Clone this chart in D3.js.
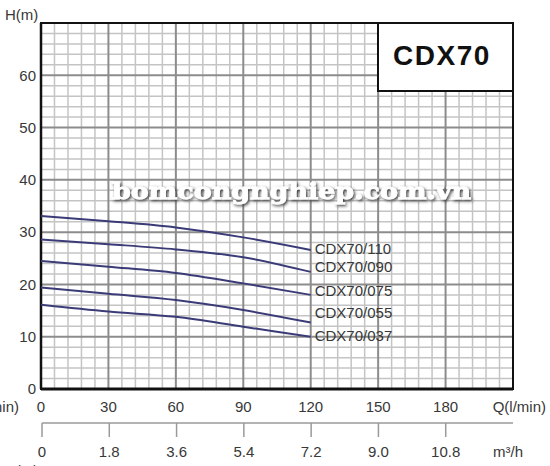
<!DOCTYPE html>
<html lang="vi">
<head>
    <meta charset="UTF-8">
    <title>CDX70 pump curves</title>
    <style>
        body {
            margin: 0;
            background: #fff;
        }
        svg {
            display: block;
            font-family: "Liberation Sans", Arial, sans-serif;
        }
        .grid-minor {
            stroke: #c4c4c4;
            stroke-width: 1.5px;
        }
        .grid-major {
            stroke: #8c8c8c;
            stroke-width: 2px;
        }
        .curve {
            fill: none;
            stroke: #3b3b78;
            stroke-width: 2px;
        }
        .lbl {
            fill: #383838;
            font-size: 15px;
        }
    </style>
</head>
<body>
    <svg width="550" height="466"></svg>
    <script src="https://d3js.org/d3.v7.min.js"></script>
    <script>
        // flow in l/min, head in m
        const flow = [0, 30, 60, 90, 120];
        const models = ["CDX70/110", "CDX70/090", "CDX70/075", "CDX70/055", "CDX70/037"];
        const head110 = [33.1, 32.1, 30.9, 29.0, 26.6];
        const head090 = [28.6, 27.7, 26.7, 25.2, 22.4];
        const head075 = [24.5, 23.4, 22.2, 20.2, 18.0];
        const head055 = [19.4, 18.2, 17.0, 15.1, 12.7];
        const head037 = [16.1, 14.8, 13.8, 11.9, 10.0];
        const heads = [head110, head090, head075, head055, head037];
        // label heights (where the names sit at the right end)
        const labelH = [26.8, 23.3, 18.8, 14.6, 10.1];

        const qTicks = [0, 30, 60, 90, 120, 150, 180];
        const m3Ticks = [0, 1.8, 3.6, 5.4, 7.2, 9.0, 10.8];
        const hTicks = [0, 10, 20, 30, 40, 50, 60];

        const svg = d3.select("svg");
        const pL = 41, pR = 513, pT = 23, pB = 389;

        const x = d3.scaleLinear().domain([0, 210]).range([pL, pR]);
        const x2 = d3.scaleLinear().domain([0, 12.6]).range([pL + 1, pR]);
        const y = d3.scaleLinear().domain([0, 70]).range([pB, pT]);

        // grid
        const g = svg.append("g");
        g.selectAll(".vmin").data(d3.range(0, 211, 6).filter(v => v % 30))
            .enter().append("line").attr("class", "grid-minor")
            .attr("x1", d => x(d)).attr("x2", d => x(d)).attr("y1", pT).attr("y2", pB);
        g.selectAll(".hmin").data(d3.range(0, 71, 2).filter(v => v % 10))
            .enter().append("line").attr("class", "grid-minor")
            .attr("x1", pL).attr("x2", pR).attr("y1", d => y(d)).attr("y2", d => y(d));
        g.selectAll(".vmaj").data(d3.range(30, 210, 30))
            .enter().append("line").attr("class", "grid-major")
            .attr("x1", d => x(d)).attr("x2", d => x(d)).attr("y1", pT).attr("y2", pB);
        g.selectAll(".hmaj").data(d3.range(10, 70, 10))
            .enter().append("line").attr("class", "grid-major")
            .attr("x1", pL).attr("x2", pR).attr("y1", d => y(d)).attr("y2", d => y(d));

        // title box
        svg.append("rect")
            .attr("x", 378).attr("y", pT).attr("width", pR - 378).attr("height", 68)
            .attr("fill", "#fff").attr("stroke", "#111").attr("stroke-width", 2);
        svg.append("text")
            .attr("x", 442).attr("y", 65)
            .attr("text-anchor", "middle")
            .attr("font-size", 28).attr("font-weight", "bold")
            .attr("letter-spacing", 1.5)
            .attr("fill", "#111")
            .text("CDX70");

        // frame
        svg.append("rect")
            .attr("x", pL).attr("y", pT).attr("width", pR - pL).attr("height", pB - pT)
            .attr("fill", "none").attr("stroke", "#111").attr("stroke-width", 2);
        svg.append("line")
            .attr("x1", pL).attr("x2", pR).attr("y1", pB).attr("y2", pB)
            .attr("stroke", "#111").attr("stroke-width", 3);
        svg.append("line")
            .attr("x1", pL).attr("x2", pL).attr("y1", pT).attr("y2", pB)
            .attr("stroke", "#111").attr("stroke-width", 2.5);

        // watermark
        const defs = svg.append("defs");
        const f = defs.append("filter").attr("id", "shadow")
            .attr("x", "-5%").attr("y", "-30%").attr("width", "110%").attr("height", "160%");
        f.append("feDropShadow").attr("dx", 1.5).attr("dy", 1.5)
            .attr("stdDeviation", 1.6).attr("flood-color", "#222").attr("flood-opacity", 0.9);
        svg.append("text")
            .attr("x", 112).attr("y", 199)
            .attr("font-family", "DejaVu Serif, serif")
            .attr("font-weight", "bold")
            .attr("font-size", 23)
            .attr("textLength", 359).attr("lengthAdjust", "spacingAndGlyphs")
            .attr("fill", "#fff")
            .attr("stroke", "#fff").attr("stroke-width", 0.8)
            .attr("filter", "url(#shadow)")
            .text("bomcongnghiep.com.vn");

        // curves
        const line = d3.line()
            .x((d, i) => x(flow[i]))
            .y(d => y(d))
            .curve(d3.curveMonotoneX);
        svg.selectAll(".curve").data(heads)
            .enter().append("path")
            .attr("class", "curve")
            .attr("d", line);

        svg.selectAll(".model").data(models)
            .enter().append("text")
            .attr("class", "lbl")
            .attr("x", x(120) + 4)
            .attr("y", (d, i) => y(labelH[i]))
            .attr("dy", "0.35em")
            .text(d => d);

        // y labels
        svg.append("text").attr("class", "lbl").attr("x", 5).attr("y", 20).text("H(m)");
        svg.selectAll(".ytick").data(hTicks)
            .enter().append("text")
            .attr("class", "lbl")
            .attr("x", 36).attr("y", d => y(d))
            .attr("dy", "0.35em")
            .attr("text-anchor", "end")
            .text(d => d);

        // bottom l/min labels
        svg.selectAll(".qtick").data(qTicks)
            .enter().append("text")
            .attr("class", "lbl")
            .attr("x", d => x(d)).attr("y", 407)
            .attr("dy", "0.35em")
            .attr("text-anchor", "middle")
            .text(d => d);
        svg.append("text").attr("class", "lbl")
            .attr("x", 546).attr("y", 407).attr("dy", "0.35em")
            .attr("text-anchor", "end").text("Q(l/min)");
        // left copy is cut by the edge, as in the source image
        svg.append("text").attr("class", "lbl")
            .attr("x", 19).attr("y", 407).attr("dy", "0.35em")
            .attr("text-anchor", "end").text("Q(l/min)");

        // m3/h axis
        const ax = svg.append("g").attr("stroke", "#9a9a9a").attr("stroke-width", 1.5);
        ax.append("line")
            .attr("x1", x2(0)).attr("x2", x2(12.6)).attr("y1", 423).attr("y2", 423);
        ax.selectAll(".tk").data(m3Ticks)
            .enter().append("line")
            .attr("x1", d => x2(d)).attr("x2", d => x2(d))
            .attr("y1", 423).attr("y2", 437);
        svg.selectAll(".mtick").data(m3Ticks)
            .enter().append("text")
            .attr("class", "lbl")
            .attr("x", d => x2(d)).attr("y", 452)
            .attr("dy", "0.35em")
            .attr("text-anchor", "middle")
            .text(d => d === 9 ? "9.0" : String(d));
        svg.append("text").attr("class", "lbl")
            .attr("x", 508).attr("y", 452).attr("dy", "0.35em")
            .attr("text-anchor", "middle").text("m³/h");
        svg.append("text").attr("class", "lbl")
            .attr("x", 5).attr("y", 476).text("H(m)");
    </script>
</body>
</html>
